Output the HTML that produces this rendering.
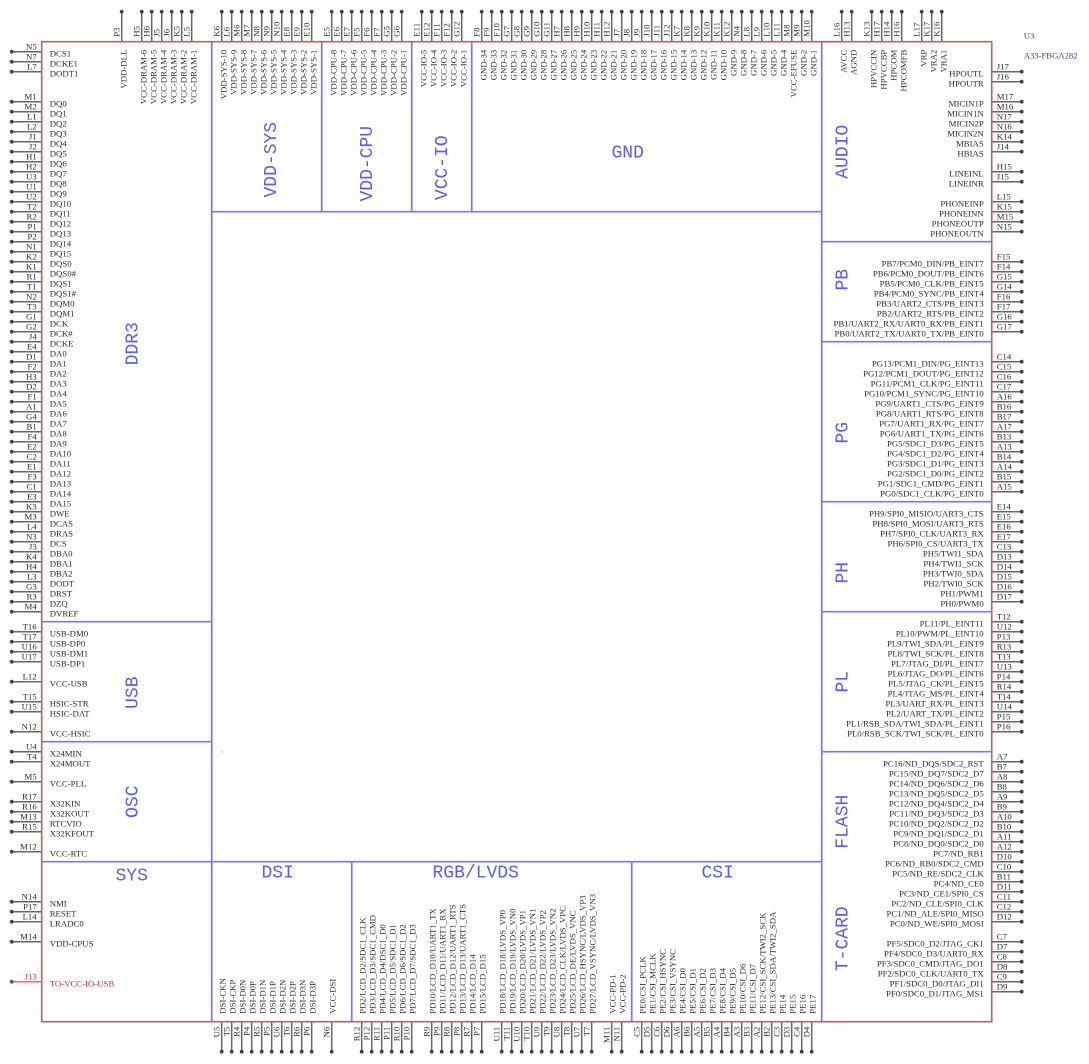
<!DOCTYPE html>
<html><head><meta charset="utf-8"><style>
html,body{margin:0;padding:0;background:#fff}
svg{display:block;font-family:"Liberation Serif",serif;font-size:8.75px;fill:#2c2c2c}
.b{font-family:"Liberation Mono",monospace;font-size:18px;fill:#5a5aff;text-anchor:middle}
.e{text-anchor:end}
</style></head><body>
<svg xmlns="http://www.w3.org/2000/svg" width="1089" height="1064" viewBox="0 0 1089 1064">
<defs><path id="l" d="M12 52h30M12 62h30M12 72h30M12 102h30M12 112h30M12 122h30M12 132h30M12 142h30M12 152h30M12 162h30M12 172h30M12 182h30M12 192h30M12 202h30M12 212h30M12 222h30M12 232h30M12 242h30M12 252h30M12 262h30M12 272h30M12 282h30M12 292h30M12 302h30M12 312h30M12 322h30M12 332h30M12 342h30M12 352h30M12 362h30M12 372h30M12 382h30M12 392h30M12 402h30M12 412h30M12 422h30M12 432h30M12 442h30M12 452h30M12 462h30M12 472h30M12 482h30M12 492h30M12 502h30M12 512h30M12 522h30M12 532h30M12 542h30M12 552h30M12 562h30M12 572h30M12 582h30M12 592h30M12 602h30M12 612h30M12 632h30M12 642h30M12 652h30M12 662h30M12 682h30M12 702h30M12 712h30M12 732h30M12 752h30M12 762h30M12 782h30M12 802h30M12 812h30M12 822h30M12 832h30M12 852h30M12 902h30M12 912h30M12 922h30M12 942h30
M1022 72h-30M1022 82h-30M1022 102h-30M1022 112h-30M1022 122h-30M1022 132h-30M1022 142h-30M1022 152h-30M1022 172h-30M1022 182h-30M1022 202h-30M1022 212h-30M1022 222h-30M1022 232h-30M1022 262h-30M1022 272h-30M1022 282h-30M1022 292h-30M1022 302h-30M1022 312h-30M1022 322h-30M1022 332h-30M1022 362h-30M1022 372h-30M1022 382h-30M1022 392h-30M1022 402h-30M1022 412h-30M1022 422h-30M1022 432h-30M1022 442h-30M1022 452h-30M1022 462h-30M1022 472h-30M1022 482h-30M1022 492h-30M1022 512h-30M1022 522h-30M1022 532h-30M1022 542h-30M1022 552h-30M1022 562h-30M1022 572h-30M1022 582h-30M1022 592h-30M1022 602h-30M1022 622h-30M1022 632h-30M1022 642h-30M1022 652h-30M1022 662h-30M1022 672h-30M1022 682h-30M1022 692h-30M1022 702h-30M1022 712h-30M1022 722h-30M1022 732h-30M1022 762h-30M1022 772h-30M1022 782h-30M1022 792h-30M1022 802h-30M1022 812h-30M1022 822h-30M1022 832h-30M1022 842h-30M1022 852h-30M1022 862h-30M1022 872h-30M1022 882h-30M1022 892h-30M1022 902h-30M1022 912h-30M1022 922h-30M1022 942h-30M1022 952h-30M1022 962h-30M1022 972h-30M1022 982h-30M1022 992h-30
M122 12v30M142 12v30M152 12v30M162 12v30M172 12v30M182 12v30M192 12v30M222 12v30M232 12v30M242 12v30M252 12v30M262 12v30M272 12v30M282 12v30M292 12v30M302 12v30M312 12v30M332 12v30M342 12v30M352 12v30M362 12v30M372 12v30M382 12v30M392 12v30M402 12v30M422 12v30M432 12v30M442 12v30M452 12v30M462 12v30M482 12v30M492 12v30M502 12v30M512 12v30M522 12v30M532 12v30M542 12v30M552 12v30M562 12v30M572 12v30M582 12v30M592 12v30M602 12v30M612 12v30M622 12v30M632 12v30M642 12v30M652 12v30M662 12v30M672 12v30M682 12v30M692 12v30M702 12v30M712 12v30M722 12v30M732 12v30M742 12v30M752 12v30M762 12v30M772 12v30M782 12v30M792 12v30M802 12v30M812 12v30M842 12v30M852 12v30M872 12v30M882 12v30M892 12v30M902 12v30M922 12v30M932 12v30M942 12v30
M222 1052v-30M232 1052v-30M242 1052v-30M252 1052v-30M262 1052v-30M272 1052v-30M282 1052v-30M292 1052v-30M302 1052v-30M312 1052v-30M332 1052v-30M362 1052v-30M372 1052v-30M382 1052v-30M392 1052v-30M402 1052v-30M412 1052v-30M432 1052v-30M442 1052v-30M452 1052v-30M462 1052v-30M472 1052v-30M482 1052v-30M502 1052v-30M512 1052v-30M522 1052v-30M532 1052v-30M542 1052v-30M552 1052v-30M562 1052v-30M572 1052v-30M582 1052v-30M592 1052v-30M612 1052v-30M622 1052v-30M642 1052v-30M652 1052v-30M662 1052v-30M672 1052v-30M682 1052v-30M692 1052v-30M702 1052v-30M712 1052v-30M722 1052v-30M732 1052v-30M742 1052v-30M752 1052v-30M762 1052v-30M772 1052v-30M782 1052v-30M792 1052v-30M802 1052v-30M812 1052v-30"/></defs>
<g transform="translate(-.3 -.3)">
<path d="M212 42V1022M212 212H822M322 42V212M412 42V212M472 42V212M822 42V1022M822 242H992M822 342H992M822 502H992M822 612H992M822 752H992M42 622H212M42 742H212M42 862H822M352 862V1022M632 862V1022" fill="none" stroke="#7474ff" stroke-width="1.7"/>
<rect x="221" y="751" width="2" height="2" fill="#d0d0f4" stroke="none"/>
<use href="#l" fill="none" stroke="#666" stroke-width="1.5"/>
<use href="#l" fill="none" stroke="#444" stroke-width="3.8" stroke-linecap="round" stroke-dasharray="0 99"/>
<path d="M12 982h30" fill="none" stroke="#ff6070" stroke-width="1.5"/>
<circle cx="12" cy="982" r="1.9" fill="#555"/>
<rect x="42" y="42" width="950" height="980" fill="none" stroke="#b56a6a" stroke-width="1.7"/>

<g class="b">
<text class="b" x="132" y="881">SYS</text><text class="b" x="278" y="878">DSI</text><text class="b" x="476" y="878">RGB/LVDS</text><text class="b" x="718" y="878">CSI</text><text class="b" x="628" y="158">GND</text>
</g>
<g transform="rotate(-90)">
<text class="b" x="-160" y="276.5">VDD-SYS</text><text class="b" x="-164" y="372.5">VDD-CPU</text><text class="b" x="-168" y="447.5">VCC-IO</text><text class="b" x="-344" y="138">DDR3</text><text class="b" x="-693" y="138">USB</text><text class="b" x="-802" y="138">OSC</text><text class="b" x="-152" y="848">AUDIO</text><text class="b" x="-280" y="848">PB</text><text class="b" x="-433" y="848">PG</text><text class="b" x="-573" y="848">PH</text><text class="b" x="-682" y="848">PL</text><text class="b" x="-822" y="848">FLASH</text><text class="b" x="-939" y="848">T-CARD</text>
</g>
<text x="1024" y="39" style="fill:#3a3a9a;font-size:8.67px">U3</text><text x="1024" y="59" style="fill:#3a3a9a;font-size:8.67px">A33-FBGA282</text>

<g class="e">
<text class="e" x="37" y="50">N5</text><text class="e" x="37" y="60">N7</text><text class="e" x="37" y="70">L7</text><text class="e" x="37" y="100">M1</text><text class="e" x="37" y="110">M2</text><text class="e" x="37" y="120">L1</text><text class="e" x="37" y="130">L2</text><text class="e" x="37" y="140">J1</text><text class="e" x="37" y="150">J2</text><text class="e" x="37" y="160">H1</text><text class="e" x="37" y="170">H2</text><text class="e" x="37" y="180">U3</text><text class="e" x="37" y="190">U1</text><text class="e" x="37" y="200">U2</text><text class="e" x="37" y="210">T2</text><text class="e" x="37" y="220">R2</text><text class="e" x="37" y="230">P1</text><text class="e" x="37" y="240">P2</text><text class="e" x="37" y="250">N1</text><text class="e" x="37" y="260">K2</text><text class="e" x="37" y="270">K1</text><text class="e" x="37" y="280">R1</text><text class="e" x="37" y="290">T1</text><text class="e" x="37" y="300">N2</text><text class="e" x="37" y="310">T3</text><text class="e" x="37" y="320">G1</text><text class="e" x="37" y="330">G2</text><text class="e" x="37" y="340">J4</text><text class="e" x="37" y="350">E4</text><text class="e" x="37" y="360">D1</text><text class="e" x="37" y="370">F2</text><text class="e" x="37" y="380">H3</text><text class="e" x="37" y="390">D2</text><text class="e" x="37" y="400">F1</text><text class="e" x="37" y="410">A1</text><text class="e" x="37" y="420">G4</text><text class="e" x="37" y="430">B1</text><text class="e" x="37" y="440">F4</text><text class="e" x="37" y="450">E2</text><text class="e" x="37" y="460">C2</text><text class="e" x="37" y="470">E1</text><text class="e" x="37" y="480">F3</text><text class="e" x="37" y="490">C1</text><text class="e" x="37" y="500">E3</text><text class="e" x="37" y="510">K3</text><text class="e" x="37" y="520">M3</text><text class="e" x="37" y="530">L4</text><text class="e" x="37" y="540">N3</text><text class="e" x="37" y="550">J3</text><text class="e" x="37" y="560">K4</text><text class="e" x="37" y="570">H4</text><text class="e" x="37" y="580">L3</text><text class="e" x="37" y="590">G3</text><text class="e" x="37" y="600">R3</text><text class="e" x="37" y="610">M4</text><text class="e" x="37" y="630">T16</text><text class="e" x="37" y="640">T17</text><text class="e" x="37" y="650">U16</text><text class="e" x="37" y="660">U17</text><text class="e" x="37" y="680">L12</text><text class="e" x="37" y="700">T15</text><text class="e" x="37" y="710">U15</text><text class="e" x="37" y="730">N12</text><text class="e" x="37" y="750">U4</text><text class="e" x="37" y="760">T4</text><text class="e" x="37" y="780">M5</text><text class="e" x="37" y="800">R17</text><text class="e" x="37" y="810">R16</text><text class="e" x="37" y="820">M13</text><text class="e" x="37" y="830">R15</text><text class="e" x="37" y="850">M12</text><text class="e" x="37" y="900">N14</text><text class="e" x="37" y="910">P17</text><text class="e" x="37" y="920">L14</text><text class="e" x="37" y="940">M14</text><text class="e" x="37" y="980" style="fill:#e8203c">J13</text>
</g>
<g>
<text x="50" y="57">DCS1</text><text x="50" y="67">DCKE1</text><text x="50" y="77">DODT1</text><text x="50" y="107">DQ0</text><text x="50" y="117">DQ1</text><text x="50" y="127">DQ2</text><text x="50" y="137">DQ3</text><text x="50" y="147">DQ4</text><text x="50" y="157">DQ5</text><text x="50" y="167">DQ6</text><text x="50" y="177">DQ7</text><text x="50" y="187">DQ8</text><text x="50" y="197">DQ9</text><text x="50" y="207">DQ10</text><text x="50" y="217">DQ11</text><text x="50" y="227">DQ12</text><text x="50" y="237">DQ13</text><text x="50" y="247">DQ14</text><text x="50" y="257">DQ15</text><text x="50" y="267">DQS0</text><text x="50" y="277">DQS0#</text><text x="50" y="287">DQS1</text><text x="50" y="297">DQS1#</text><text x="50" y="307">DQM0</text><text x="50" y="317">DQM1</text><text x="50" y="327">DCK</text><text x="50" y="337">DCK#</text><text x="50" y="347">DCKE</text><text x="50" y="357">DA0</text><text x="50" y="367">DA1</text><text x="50" y="377">DA2</text><text x="50" y="387">DA3</text><text x="50" y="397">DA4</text><text x="50" y="407">DA5</text><text x="50" y="417">DA6</text><text x="50" y="427">DA7</text><text x="50" y="437">DA8</text><text x="50" y="447">DA9</text><text x="50" y="457">DA10</text><text x="50" y="467">DA11</text><text x="50" y="477">DA12</text><text x="50" y="487">DA13</text><text x="50" y="497">DA14</text><text x="50" y="507">DA15</text><text x="50" y="517">DWE</text><text x="50" y="527">DCAS</text><text x="50" y="537">DRAS</text><text x="50" y="547">DCS</text><text x="50" y="557">DBA0</text><text x="50" y="567">DBA1</text><text x="50" y="577">DBA2</text><text x="50" y="587">DODT</text><text x="50" y="597">DRST</text><text x="50" y="607">DZQ</text><text x="50" y="617">DVREF</text><text x="50" y="637">USB-DM0</text><text x="50" y="647">USB-DP0</text><text x="50" y="657">USB-DM1</text><text x="50" y="667">USB-DP1</text><text x="50" y="687">VCC-USB</text><text x="50" y="707">HSIC-STR</text><text x="50" y="717">HSIC-DAT</text><text x="50" y="737">VCC-HSIC</text><text x="50" y="757">X24MIN</text><text x="50" y="767">X24MOUT</text><text x="50" y="787">VCC-PLL</text><text x="50" y="807">X32KIN</text><text x="50" y="817">X32KOUT</text><text x="50" y="827">RTCVIO</text><text x="50" y="837">X32KFOUT</text><text x="50" y="857">VCC-RTC</text><text x="50" y="907">NMI</text><text x="50" y="917">RESET</text><text x="50" y="927">LRADC0</text><text x="50" y="947">VDD-CPUS</text><text x="50" y="987" style="fill:#e8203c">TO-VCC-IO-USB</text>
</g>
<g>
<text x="997" y="70">J17</text><text x="997" y="80">J16</text><text x="997" y="100">M17</text><text x="997" y="110">M16</text><text x="997" y="120">N17</text><text x="997" y="130">N16</text><text x="997" y="140">K14</text><text x="997" y="150">J14</text><text x="997" y="170">H15</text><text x="997" y="180">J15</text><text x="997" y="200">L15</text><text x="997" y="210">K15</text><text x="997" y="220">M15</text><text x="997" y="230">N15</text><text x="997" y="260">F15</text><text x="997" y="270">F14</text><text x="997" y="280">G15</text><text x="997" y="290">G14</text><text x="997" y="300">F16</text><text x="997" y="310">F17</text><text x="997" y="320">G16</text><text x="997" y="330">G17</text><text x="997" y="360">C14</text><text x="997" y="370">C15</text><text x="997" y="380">C16</text><text x="997" y="390">C17</text><text x="997" y="400">A16</text><text x="997" y="410">B16</text><text x="997" y="420">B17</text><text x="997" y="430">A17</text><text x="997" y="440">B13</text><text x="997" y="450">A13</text><text x="997" y="460">B14</text><text x="997" y="470">A14</text><text x="997" y="480">B15</text><text x="997" y="490">A15</text><text x="997" y="510">E14</text><text x="997" y="520">E15</text><text x="997" y="530">E16</text><text x="997" y="540">E17</text><text x="997" y="550">C13</text><text x="997" y="560">D13</text><text x="997" y="570">D14</text><text x="997" y="580">D15</text><text x="997" y="590">D16</text><text x="997" y="600">D17</text><text x="997" y="620">T12</text><text x="997" y="630">U12</text><text x="997" y="640">P13</text><text x="997" y="650">R13</text><text x="997" y="660">T13</text><text x="997" y="670">U13</text><text x="997" y="680">P14</text><text x="997" y="690">R14</text><text x="997" y="700">T14</text><text x="997" y="710">U14</text><text x="997" y="720">P15</text><text x="997" y="730">P16</text><text x="997" y="760">A7</text><text x="997" y="770">B7</text><text x="997" y="780">A8</text><text x="997" y="790">B8</text><text x="997" y="800">A9</text><text x="997" y="810">B9</text><text x="997" y="820">A10</text><text x="997" y="830">B10</text><text x="997" y="840">A11</text><text x="997" y="850">A12</text><text x="997" y="860">D10</text><text x="997" y="870">C10</text><text x="997" y="880">B11</text><text x="997" y="890">D11</text><text x="997" y="900">C11</text><text x="997" y="910">C12</text><text x="997" y="920">D12</text><text x="997" y="940">C7</text><text x="997" y="950">D7</text><text x="997" y="960">C8</text><text x="997" y="970">D8</text><text x="997" y="980">C9</text><text x="997" y="990">D9</text>
</g>
<g>
<text class="e" x="984" y="77">HPOUTL</text><text class="e" x="984" y="87">HPOUTR</text><text class="e" x="984" y="107">MICIN1P</text><text class="e" x="984" y="117">MICIN1N</text><text class="e" x="984" y="127">MICIN2P</text><text class="e" x="984" y="137">MICIN2N</text><text class="e" x="984" y="147">MBIAS</text><text class="e" x="984" y="157">HBIAS</text><text class="e" x="984" y="177">LINEINL</text><text class="e" x="984" y="187">LINEINR</text><text class="e" x="984" y="207">PHONEINP</text><text class="e" x="984" y="217">PHONEINN</text><text class="e" x="984" y="227">PHONEOUTP</text><text class="e" x="984" y="237">PHONEOUTN</text>
<text class="e" x="984" y="267">PB7/PCM0_DIN/PB_EINT7</text><text class="e" x="984" y="277">PB6/PCM0_DOUT/PB_EINT6</text><text class="e" x="984" y="287">PB5/PCM0_CLK/PB_EINT5</text><text class="e" x="984" y="297">PB4/PCM0_SYNC/PB_EINT4</text><text class="e" x="984" y="307">PB3/UART2_CTS/PB_EINT3</text><text class="e" x="984" y="317">PB2/UART2_RTS/PB_EINT2</text><text class="e" x="984" y="327">PB1/UART2_RX/UART0_RX/PB_EINT1</text><text class="e" x="984" y="337">PB0/UART2_TX/UART0_TX/PB_EINT0</text>
<text class="e" x="984" y="367">PG13/PCM1_DIN/PG_EINT13</text><text class="e" x="984" y="377">PG12/PCM1_DOUT/PG_EINT12</text><text class="e" x="984" y="387">PG11/PCM1_CLK/PG_EINT11</text><text class="e" x="984" y="397">PG10/PCM1_SYNC/PG_EINT10</text><text class="e" x="984" y="407">PG9/UART1_CTS/PG_EINT9</text><text class="e" x="984" y="417">PG8/UART1_RTS/PG_EINT8</text><text class="e" x="984" y="427">PG7/UART1_RX/PG_EINT7</text><text class="e" x="984" y="437">PG6/UART1_TX/PG_EINT6</text><text class="e" x="984" y="447">PG5/SDC1_D3/PG_EINT5</text><text class="e" x="984" y="457">PG4/SDC1_D2/PG_EINT4</text><text class="e" x="984" y="467">PG3/SDC1_D1/PG_EINT3</text><text class="e" x="984" y="477">PG2/SDC1_D0/PG_EINT2</text><text class="e" x="984" y="487">PG1/SDC1_CMD/PG_EINT1</text><text class="e" x="984" y="497">PG0/SDC1_CLK/PG_EINT0</text>
<text class="e" x="984" y="517">PH9/SPI0_MISIO/UART3_CTS</text><text class="e" x="984" y="527">PH8/SPI0_MOSI/UART3_RTS</text><text class="e" x="984" y="537">PH7/SPI0_CLK/UART3_RX</text><text class="e" x="984" y="547">PH6/SPI0_CS/UART3_TX</text><text class="e" x="984" y="557">PH5/TWI1_SDA</text><text class="e" x="984" y="567">PH4/TWI1_SCK</text><text class="e" x="984" y="577">PH3/TWI0_SDA</text><text class="e" x="984" y="587">PH2/TWI0_SCK</text><text class="e" x="984" y="597">PH1/PWM1</text><text class="e" x="984" y="607">PH0/PWM0</text>
<text class="e" x="984" y="627">PL11/PL_EINT11</text><text class="e" x="984" y="637">PL10/PWM/PL_EINT10</text><text class="e" x="984" y="647">PL9/TWI_SDA/PL_EINT9</text><text class="e" x="984" y="657">PL8/TWI_SCK/PL_EINT8</text><text class="e" x="984" y="667">PL7/JTAG_DI/PL_EINT7</text><text class="e" x="984" y="677">PL6/JTAG_DO/PL_EINT6</text><text class="e" x="984" y="687">PL5/JTAG_CK/PL_EINT5</text><text class="e" x="984" y="697">PL4/JTAG_MS/PL_EINT4</text><text class="e" x="984" y="707">PL3/UART_RX/PL_EINT3</text><text class="e" x="984" y="717">PL2/UART_TX/PL_EINT2</text><text class="e" x="984" y="727">PL1/RSB_SDA/TWI_SDA/PL_EINT1</text><text class="e" x="984" y="737">PL0/RSB_SCK/TWI_SCK/PL_EINT0</text>
<text class="e" x="984" y="767">PC16/ND_DQS/SDC2_RST</text><text class="e" x="984" y="777">PC15/ND_DQ7/SDC2_D7</text><text class="e" x="984" y="787">PC14/ND_DQ6/SDC2_D6</text><text class="e" x="984" y="797">PC13/ND_DQ5/SDC2_D5</text><text class="e" x="984" y="807">PC12/ND_DQ4/SDC2_D4</text><text class="e" x="984" y="817">PC11/ND_DQ3/SDC2_D3</text><text class="e" x="984" y="827">PC10/ND_DQ2/SDC2_D2</text><text class="e" x="984" y="837">PC9/ND_DQ1/SDC2_D1</text><text class="e" x="984" y="847">PC8/ND_DQ0/SDC2_D0</text><text class="e" x="984" y="857">PC7/ND_RB1</text><text class="e" x="984" y="867">PC6/ND_RB0/SDC2_CMD</text><text class="e" x="984" y="877">PC5/ND_RE/SDC2_CLK</text><text class="e" x="984" y="887">PC4/ND_CE0</text><text class="e" x="984" y="897">PC3/ND_CE1/SPI0_CS</text><text class="e" x="984" y="907">PC2/ND_CLE/SPI0_CLK</text><text class="e" x="984" y="917">PC1/ND_ALE/SPI0_MISO</text><text class="e" x="984" y="927">PC0/ND_WE/SPI0_MOSI</text>
<text class="e" x="984" y="947">PF5/SDC0_D2/JTAG_CK1</text><text class="e" x="984" y="957">PF4/SDC0_D3/UART0_RX</text><text class="e" x="984" y="967">PF3/SDC0_CMD/JTAG_DO1</text><text class="e" x="984" y="977">PF2/SDC0_CLK/UART0_TX</text><text class="e" x="984" y="987">PF1/SDC0_D0/JTAG_DI1</text><text class="e" x="984" y="997">PF0/SDC0_D1/JTAG_MS1</text>
</g>
<g transform="rotate(-90)">
<text x="-37" y="120">P3</text><text x="-37" y="140">H5</text><text x="-37" y="150">H6</text><text x="-37" y="160">J5</text><text x="-37" y="170">J6</text><text x="-37" y="180">K5</text><text x="-37" y="190">L5</text><text x="-37" y="220">K6</text><text x="-37" y="230">L6</text><text x="-37" y="240">M6</text><text x="-37" y="250">M7</text><text x="-37" y="260">N8</text><text x="-37" y="270">N9</text><text x="-37" y="280">N10</text><text x="-37" y="290">E8</text><text x="-37" y="300">E9</text><text x="-37" y="310">E10</text><text x="-37" y="330">E5</text><text x="-37" y="340">E6</text><text x="-37" y="350">E7</text><text x="-37" y="360">F5</text><text x="-37" y="370">F6</text><text x="-37" y="380">F7</text><text x="-37" y="390">G5</text><text x="-37" y="400">G6</text><text x="-37" y="420">E11</text><text x="-37" y="430">E12</text><text x="-37" y="440">F11</text><text x="-37" y="450">F12</text><text x="-37" y="460">G12</text><text x="-37" y="480">F8</text><text x="-37" y="490">F9</text><text x="-37" y="500">F10</text><text x="-37" y="510">G7</text><text x="-37" y="520">G8</text><text x="-37" y="530">G9</text><text x="-37" y="540">G10</text><text x="-37" y="550">G11</text><text x="-37" y="560">H7</text><text x="-37" y="570">H8</text><text x="-37" y="580">H9</text><text x="-37" y="590">H10</text><text x="-37" y="600">H11</text><text x="-37" y="610">H12</text><text x="-37" y="620">J7</text><text x="-37" y="630">J8</text><text x="-37" y="640">J9</text><text x="-37" y="650">J10</text><text x="-37" y="660">J11</text><text x="-37" y="670">J12</text><text x="-37" y="680">K7</text><text x="-37" y="690">K8</text><text x="-37" y="700">K9</text><text x="-37" y="710">K10</text><text x="-37" y="720">K11</text><text x="-37" y="730">K12</text><text x="-37" y="740">N4</text><text x="-37" y="750">L8</text><text x="-37" y="760">L9</text><text x="-37" y="770">L10</text><text x="-37" y="780">L11</text><text x="-37" y="790">M8</text><text x="-37" y="800">M9</text><text x="-37" y="810">M10</text><text x="-37" y="840">L16</text><text x="-37" y="850">H13</text><text x="-37" y="870">K13</text><text x="-37" y="880">H17</text><text x="-37" y="890">H14</text><text x="-37" y="900">H16</text><text x="-37" y="920">L17</text><text x="-37" y="930">K17</text><text x="-37" y="940">K16</text>
<text class="e" x="-50" y="127">VDD-DLL</text><text class="e" x="-50" y="147">VCC-DRAM-6</text><text class="e" x="-50" y="157">VCC-DRAM-5</text><text class="e" x="-50" y="167">VCC-DRAM-4</text><text class="e" x="-50" y="177">VCC-DRAM-3</text><text class="e" x="-50" y="187">VCC-DRAM-2</text><text class="e" x="-50" y="197">VCC-DRAM-1</text><text class="e" x="-50" y="227">VDD-SYS-10</text><text class="e" x="-50" y="237">VDD-SYS-9</text><text class="e" x="-50" y="247">VDD-SYS-8</text><text class="e" x="-50" y="257">VDD-SYS-7</text><text class="e" x="-50" y="267">VDD-SYS-6</text><text class="e" x="-50" y="277">VDD-SYS-5</text><text class="e" x="-50" y="287">VDD-SYS-4</text><text class="e" x="-50" y="297">VDD-SYS-3</text><text class="e" x="-50" y="307">VDD-SYS-2</text><text class="e" x="-50" y="317">VDD-SYS-1</text><text class="e" x="-50" y="337">VDD-CPU-8</text><text class="e" x="-50" y="347">VDD-CPU-7</text><text class="e" x="-50" y="357">VDD-CPU-6</text><text class="e" x="-50" y="367">VDD-CPU-5</text><text class="e" x="-50" y="377">VDD-CPU-4</text><text class="e" x="-50" y="387">VDD-CPU-3</text><text class="e" x="-50" y="397">VDD-CPU-2</text><text class="e" x="-50" y="407">VDD-CPU-1</text><text class="e" x="-50" y="427">VCC-IO-5</text><text class="e" x="-50" y="437">VCC-IO-4</text><text class="e" x="-50" y="447">VCC-IO-3</text><text class="e" x="-50" y="457">VCC-IO-2</text><text class="e" x="-50" y="467">VCC-IO-1</text>
<text class="e" x="-50" y="487">GND-34</text><text class="e" x="-50" y="497">GND-33</text><text class="e" x="-50" y="507">GND-32</text><text class="e" x="-50" y="517">GND-31</text><text class="e" x="-50" y="527">GND-30</text><text class="e" x="-50" y="537">GND-29</text><text class="e" x="-50" y="547">GND-28</text><text class="e" x="-50" y="557">GND-27</text><text class="e" x="-50" y="567">GND-26</text><text class="e" x="-50" y="577">GND-25</text><text class="e" x="-50" y="587">GND-24</text><text class="e" x="-50" y="597">GND-23</text><text class="e" x="-50" y="607">GND-22</text><text class="e" x="-50" y="617">GND-21</text><text class="e" x="-50" y="627">GND-20</text><text class="e" x="-50" y="637">GND-19</text><text class="e" x="-50" y="647">GND-18</text><text class="e" x="-50" y="657">GND-17</text><text class="e" x="-50" y="667">GND-16</text><text class="e" x="-50" y="677">GND-15</text><text class="e" x="-50" y="687">GND-14</text><text class="e" x="-50" y="697">GND-13</text><text class="e" x="-50" y="707">GND-12</text><text class="e" x="-50" y="717">GND-11</text><text class="e" x="-50" y="727">GND-10</text><text class="e" x="-50" y="737">GND-9</text><text class="e" x="-50" y="747">GND-8</text><text class="e" x="-50" y="757">GND-7</text><text class="e" x="-50" y="767">GND-6</text><text class="e" x="-50" y="777">GND-5</text><text class="e" x="-50" y="787">GND-4</text><text class="e" x="-50" y="797">VCC-EFUSE</text><text class="e" x="-50" y="807">GND-2</text><text class="e" x="-50" y="817">GND-1</text><text class="e" x="-50" y="847">AVCC</text><text class="e" x="-50" y="857">AGND</text><text class="e" x="-50" y="877">HPVCCIN</text><text class="e" x="-50" y="887">HPVCCBP</text><text class="e" x="-50" y="897">HPCOM</text><text class="e" x="-50" y="907">HPCOMFB</text><text class="e" x="-50" y="927">VRP</text><text class="e" x="-50" y="937">VRA2</text><text class="e" x="-50" y="947">VRA1</text>

<text class="e" x="-1027" y="220">U5</text><text class="e" x="-1027" y="230">T5</text><text class="e" x="-1027" y="240">R4</text><text class="e" x="-1027" y="250">P4</text><text class="e" x="-1027" y="260">R5</text><text class="e" x="-1027" y="270">P5</text><text class="e" x="-1027" y="280">U6</text><text class="e" x="-1027" y="290">T6</text><text class="e" x="-1027" y="300">R6</text><text class="e" x="-1027" y="310">P6</text><text class="e" x="-1027" y="330">N6</text><text class="e" x="-1027" y="360">R12</text><text class="e" x="-1027" y="370">P12</text><text class="e" x="-1027" y="380">R11</text><text class="e" x="-1027" y="390">P11</text><text class="e" x="-1027" y="400">R10</text><text class="e" x="-1027" y="410">P10</text><text class="e" x="-1027" y="430">R9</text><text class="e" x="-1027" y="440">P9</text><text class="e" x="-1027" y="450">R8</text><text class="e" x="-1027" y="460">P8</text><text class="e" x="-1027" y="470">R7</text><text class="e" x="-1027" y="480">P7</text><text class="e" x="-1027" y="500">U11</text><text class="e" x="-1027" y="510">T11</text><text class="e" x="-1027" y="520">U10</text><text class="e" x="-1027" y="530">T10</text><text class="e" x="-1027" y="540">U9</text><text class="e" x="-1027" y="550">T9</text><text class="e" x="-1027" y="560">U8</text><text class="e" x="-1027" y="570">T8</text><text class="e" x="-1027" y="580">U7</text><text class="e" x="-1027" y="590">T7</text><text class="e" x="-1027" y="610">M11</text><text class="e" x="-1027" y="620">N11</text><text class="e" x="-1027" y="640">C5</text><text class="e" x="-1027" y="650">D5</text><text class="e" x="-1027" y="660">C6</text><text class="e" x="-1027" y="670">D6</text><text class="e" x="-1027" y="680">A6</text><text class="e" x="-1027" y="690">B6</text><text class="e" x="-1027" y="700">A5</text><text class="e" x="-1027" y="710">B5</text><text class="e" x="-1027" y="720">A4</text><text class="e" x="-1027" y="730">B4</text><text class="e" x="-1027" y="740">A3</text><text class="e" x="-1027" y="750">B3</text><text class="e" x="-1027" y="760">A2</text><text class="e" x="-1027" y="770">B2</text><text class="e" x="-1027" y="780">C3</text><text class="e" x="-1027" y="790">D3</text><text class="e" x="-1027" y="800">C4</text><text class="e" x="-1027" y="810">D4</text>

<text x="-1014" y="226">DSI-CKN</text><text x="-1014" y="236">DSI-CKP</text><text x="-1014" y="246">DSI-D0N</text><text x="-1014" y="256">DSI-D0P</text><text x="-1014" y="266">DSI-D1N</text><text x="-1014" y="276">DSI-D1P</text><text x="-1014" y="286">DSI-D2N</text><text x="-1014" y="296">DSI-D2P</text><text x="-1014" y="306">DSI-D3N</text><text x="-1014" y="316">DSI-D3P</text><text x="-1014" y="336">VCC-DSI</text>
<text x="-1014" y="366">PD2/LCD_D2/SDC1_CLK</text><text x="-1014" y="376">PD3/LCD_D3/SDC1_CMD</text><text x="-1014" y="386">PD4/LCD_D4/DSC1_D0</text><text x="-1014" y="396">PD5/LCD_D5/SDC1_D1</text><text x="-1014" y="406">PD6/LCD_D6/SDC1_D2</text><text x="-1014" y="416">PD7/LCD_D7/SDC1_D3</text><text x="-1014" y="436">PD10/LCD_D10/UART1_TX</text><text x="-1014" y="446">PD11/LCD_D11/UART1_RX</text><text x="-1014" y="456">PD12/LCD_D12/UART1_RTS</text><text x="-1014" y="466">PD13/LCD_D13/UART1_CTS</text><text x="-1014" y="476">PD14/LCD_D14</text><text x="-1014" y="486">PD15/LCD_D15</text><text x="-1014" y="506">PD18/LCD_D18/LVDS_VP0</text><text x="-1014" y="516">PD19/LCD_D19/LVDS_VN0</text><text x="-1014" y="526">PD20/LCD_D20/LVDS_VP1</text><text x="-1014" y="536">PD21/LCD_D21/LVDS_VN1</text><text x="-1014" y="546">PD22/LCD_D22/LVDS_VP2</text><text x="-1014" y="556">PD23/LCD_D23/LVDS_VN2</text><text x="-1014" y="566">PD24/LCD_CLK/LVDS_VPC</text><text x="-1014" y="576">PD25/LCD_DE/LVDS_VNC</text><text x="-1014" y="586">PD26/LCD_HSYNC/LVDS_VP3</text><text x="-1014" y="596">PD27/LCD_VSYNC/LVDS_VN3</text><text x="-1014" y="616">VCC-PD-1</text><text x="-1014" y="626">VCC-PD-2</text>
<text x="-1014" y="646">PE0/CSI_PCLK</text><text x="-1014" y="656">PE1/CSI_MCLK</text><text x="-1014" y="666">PE2/CSI_HSYNC</text><text x="-1014" y="676">PE3/CSI_VSYNC</text><text x="-1014" y="686">PE4/CSI_D0</text><text x="-1014" y="696">PE5/CSI_D1</text><text x="-1014" y="706">PE6/CSI_D2</text><text x="-1014" y="716">PE7/CSI_D3</text><text x="-1014" y="726">PE8/CSI_D4</text><text x="-1014" y="736">PE9/CSI_D5</text><text x="-1014" y="746">PE10/CSI_D6</text><text x="-1014" y="756">PE11/CSI_D7</text><text x="-1014" y="766">PE12/CSI_SCK/TWI2_SCK</text><text x="-1014" y="776">PE13/CSI_SDA/TWI2_SDA</text><text x="-1014" y="786">PE14</text><text x="-1014" y="796">PE15</text><text x="-1014" y="806">PE16</text><text x="-1014" y="816">PE17</text>
</g>
</g>
</svg>
</body></html>
